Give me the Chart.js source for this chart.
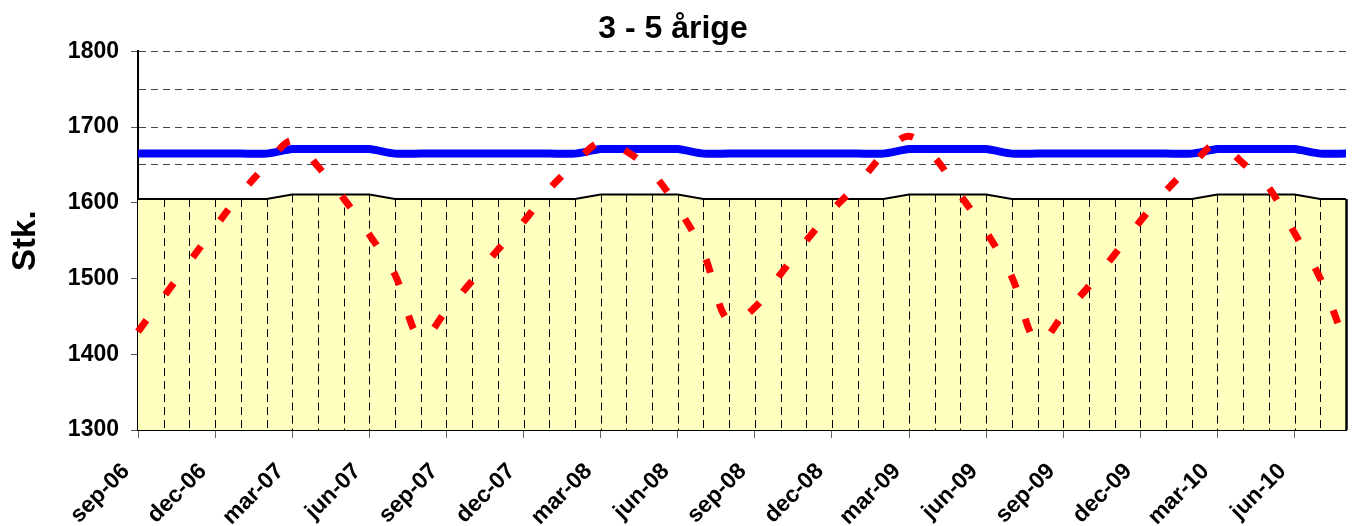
<!DOCTYPE html>
<html>
<head>
<meta charset="utf-8">
<script src="https://cdn.jsdelivr.net/npm/chart.js@4"></script>
<style>
    body { margin: 0; background: #fff; }
    #wrap { width: 1354px; height: 526px; }
</style>
</head>
<body>
<div id="wrap"><canvas id="lineChart"></canvas></div>
<script>
//months on the x axis
var maaneder = [
    "sep-06", "okt-06", "nov-06", "dec-06", "jan-07", "feb-07", "mar-07", "apr-07", "maj-07", "jun-07", "jul-07", "aug-07",
    "sep-07", "okt-07", "nov-07", "dec-07", "jan-08", "feb-08", "mar-08", "apr-08", "maj-08", "jun-08", "jul-08", "aug-08",
    "sep-08", "okt-08", "nov-08", "dec-08", "jan-09", "feb-09", "mar-09", "apr-09", "maj-09", "jun-09", "jul-09", "aug-09",
    "sep-09", "okt-09", "nov-09", "dec-09", "jan-10", "feb-10", "mar-10", "apr-10", "maj-10", "jun-10", "jul-10", "aug-10"
];

//children 3-5 years (red dashed)
var boern = [
    1430, 1476, 1522, 1568, 1612, 1650, 1682, 1648, 1606, 1558, 1505, 1420,
    1458, 1497, 1538, 1575, 1618, 1652, 1680, 1668, 1640, 1594, 1534, 1442,
    1462, 1506, 1550, 1590, 1624, 1664, 1688, 1660, 1610, 1562, 1502, 1415,
    1452, 1490, 1532, 1576, 1616, 1650, 1678, 1652, 1620, 1560, 1500, 1412
];

//capacity (blue)
var kapacitet = [
    1665, 1665, 1665, 1665, 1665, 1665, 1671, 1671, 1671, 1671, 1665, 1665,
    1665, 1665, 1665, 1665, 1665, 1665, 1671, 1671, 1671, 1671, 1665, 1665,
    1665, 1665, 1665, 1665, 1665, 1665, 1671, 1671, 1671, 1671, 1665, 1665,
    1665, 1665, 1665, 1665, 1665, 1665, 1671, 1671, 1671, 1671, 1665, 1665
];

//places (yellow area)
var pladser = [
    1605, 1605, 1605, 1605, 1605, 1605, 1611, 1611, 1611, 1611, 1605, 1605,
    1605, 1605, 1605, 1605, 1605, 1605, 1611, 1611, 1611, 1611, 1605, 1605,
    1605, 1605, 1605, 1605, 1605, 1605, 1611, 1611, 1611, 1611, 1605, 1605,
    1605, 1605, 1605, 1605, 1605, 1605, 1611, 1611, 1611, 1611, 1605, 1605
];

var yMin = 1300;
var yMax = 1800;

//dashed drop lines from the area down to the x axis
var dropLines = {
    id: "dropLines",
    afterDatasetDraw: function (chart, args) {
        if (args.index !== 2) return;
        var ctx = chart.ctx;
        var bottom = chart.chartArea.bottom;
        var pts = args.meta.data;
        ctx.save();
        for (var i = 1; i < pts.length; i++) {
            ctx.beginPath();
            if (i === pts.length - 1) {
                ctx.setLineDash([]);
                ctx.lineWidth = 2.5;
            } else {
                ctx.setLineDash([8, 5]);
                ctx.lineWidth = 1;
            }
            ctx.strokeStyle = "#000";
            ctx.moveTo(Math.round(pts[i].x) + 0.5, pts[i].y);
            ctx.lineTo(Math.round(pts[i].x) + 0.5, bottom);
            ctx.stroke();
        }
        ctx.restore();
    }
};

var ctx1 = document.getElementById("lineChart");

var chart1 = new Chart(ctx1, {
    type: "line",
    data: {
        labels: maaneder,
        datasets: [
            {
                label: "Børn",
                data: boern,
                borderColor: "#ff0000",
                borderWidth: 7,
                borderDash: [14, 32],
                borderCapStyle: "butt",
                tension: 0.35,
                pointRadius: 0,
                fill: false
            },
            {
                label: "Kapacitet",
                data: kapacitet,
                borderColor: "#0000ff",
                borderWidth: 8,
                tension: 0.2,
                pointRadius: 0,
                fill: false
            },
            {
                label: "Pladser",
                data: pladser,
                borderColor: "#000",
                borderWidth: 2,
                backgroundColor: "#ffffc0",
                tension: 0,
                pointRadius: 0,
                fill: "start"
            }
        ]
    },
    options: {
        maintainAspectRatio: false,
        responsive: true,
        animation: false,
        layout: {
            padding: { top: 0, right: 8, left: 0, bottom: 0 }
        },
        plugins: {
            legend: { display: false },
            tooltip: { enabled: false },
            title: {
                display: true,
                text: "3 - 5 årige",
                color: "#000",
                font: { family: "Liberation Sans", size: 32, weight: "bold" },
                padding: { top: 10, bottom: 3 }
            }
        },
        scales: {
            x: {
                offset: false,
                afterFit: function (scale) {
                    scale.height = 96;
                },
                grid: {
                    drawOnChartArea: false,
                    drawTicks: true,
                    tickLength: 8,
                    tickColor: "#666"
                },
                border: { display: true, color: "#000", width: 2 },
                ticks: {
                    autoSkip: false,
                    maxRotation: 45,
                    minRotation: 45,
                    color: "#000",
                    padding: 20,
                    labelOffset: -12,
                    font: { family: "Liberation Sans", size: 23, weight: "bold" },
                    callback: function (val, i) {
                        return i % 3 === 0 ? maaneder[i] : null;
                    }
                }
            },
            y: {
                min: yMin,
                max: yMax,
                afterFit: function (scale) {
                    scale.width = 138;
                },
                title: {
                    display: true,
                    text: "Stk.",
                    color: "#000",
                    font: { family: "Liberation Sans", size: 33, weight: "bold" },
                    padding: { top: 6, bottom: 12 }
                },
                grid: {
                    color: "#444",
                    tickLength: 7,
                    tickColor: function (c) {
                        return c.tick && c.tick.value % 100 === 0 ? "#555" : "rgba(0,0,0,0)";
                    }
                },
                border: { display: true, color: "#000", width: 2, dash: [7, 5] },
                ticks: {
                    stepSize: 50,
                    color: "#000",
                    padding: 12,
                    font: { family: "Liberation Sans", size: 23, weight: "bold" },
                    callback: function (val) {
                        return val % 100 === 0 ? val : "";
                    }
                }
            }
        }
    },
    plugins: [dropLines]
});
</script>
</body>
</html>
